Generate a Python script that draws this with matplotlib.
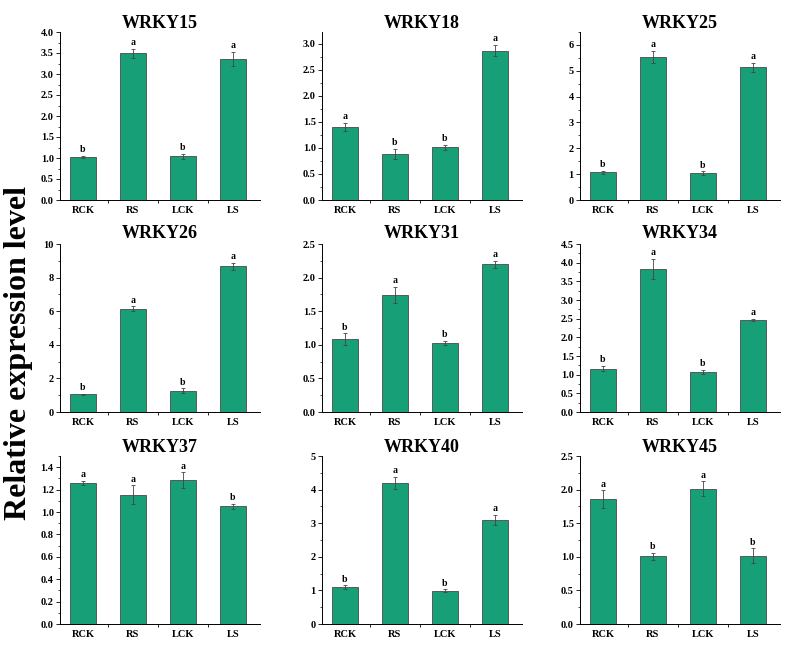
import matplotlib
matplotlib.use("Agg")
import matplotlib.pyplot as plt
from matplotlib.ticker import MultipleLocator, AutoMinorLocator, FixedLocator

plt.rcParams["font.family"] = "Liberation Serif"
plt.rcParams["font.weight"] = "bold"

grupos = ["RCK", "RS", "LCK", "LS"]

genes = ["WRKY15", "WRKY18", "WRKY25",
         "WRKY26", "WRKY31", "WRKY34",
         "WRKY37", "WRKY40", "WRKY45"]

valores = [
    [1.02, 3.49, 1.04, 3.35],
    [1.40, 0.89, 1.01, 2.87],
    [1.08, 5.53, 1.03, 5.13],
    [1.05, 6.14, 1.27, 8.67],
    [1.08, 1.745, 1.026, 2.20],
    [1.16, 3.83, 1.08, 2.46],
    [1.257, 1.153, 1.284, 1.05],
    [1.10, 4.20, 0.99, 3.09],
    [1.86, 1.005, 2.015, 1.015],
]

errores = [
    [0.03, 0.11, 0.06, 0.17],
    [0.08, 0.10, 0.05, 0.11],
    [0.06, 0.24, 0.08, 0.17],
    [0.05, 0.15, 0.14, 0.20],
    [0.09, 0.12, 0.03, 0.05],
    [0.07, 0.27, 0.05, 0.03],
    [0.02, 0.085, 0.07, 0.02],
    [0.05, 0.17, 0.04, 0.15],
    [0.13, 0.05, 0.11, 0.11],
]

letras = [
    ["b", "a", "b", "a"],
    ["a", "b", "b", "a"],
    ["b", "a", "b", "a"],
    ["b", "a", "b", "a"],
    ["b", "a", "b", "a"],
    ["b", "a", "b", "a"],
    ["a", "a", "a", "b"],
    ["b", "a", "b", "a"],
    ["a", "b", "a", "b"],
]

limites = [4.0, 3.23, 6.5, 10, 2.5, 4.5, 1.5, 5, 2.5]
pasos = [0.5, 0.5, 1, 2, 0.5, 0.5, 0.2, 1, 0.5]
formatos = ["%.1f", "%.1f", "%d", "%d", "%.1f", "%.1f", "%.1f", "%d", "%.1f"]

color_barra = "#17a077"

fig = plt.figure(figsize=(7.94, 6.57), dpi=100)
W, H = 794.0, 657.0

# posiciones en pixeles del recuadro de cada eje
col_x = [60, 322, 580]
fila_y = [200, 412, 624]
pad_titulo = [3, 4, -3]

for i, gen in enumerate(genes):
    fila, col = divmod(i, 3)
    ax = fig.add_axes([col_x[col] / W, 1 - fila_y[fila] / H, 200 / W, 168 / H])
    x = range(len(grupos))
    ax.bar(x, valores[i], width=0.52, color=color_barra, edgecolor="#4a4a4a", linewidth=0.6)
    ax.errorbar(x, valores[i], yerr=errores[i], fmt="none", ecolor="#444444",
                elinewidth=0.6, capsize=1.5, capthick=0.6)
    for j in x:
        ax.text(j, valores[i][j] + errores[i][j] + limites[i] * 0.01, letras[i][j],
                ha="center", va="bottom", fontsize=7, fontweight="bold")

    ax.set_xlim(-0.46, 3.54)
    ax.set_ylim(0, limites[i])
    ax.yaxis.set_major_locator(MultipleLocator(pasos[i]))
    ax.yaxis.set_minor_locator(AutoMinorLocator(2))
    ax.yaxis.set_major_formatter(plt.FormatStrFormatter(formatos[i]))
    ax.set_xticks(list(x))
    ax.set_xticklabels(grupos)
    ax.xaxis.set_minor_locator(FixedLocator([0.5, 1.5, 2.5]))
    ax.tick_params(axis="x", which="major", length=0, pad=4, labelsize=7.5)
    ax.tick_params(axis="x", which="minor", length=2, width=0.6, direction="out")
    ax.tick_params(axis="y", which="major", length=3, width=0.6, direction="out",
                   labelsize=7.5, pad=1.5)
    ax.tick_params(axis="y", which="minor", length=1.5, width=0.5, direction="out")
    for lbl in ax.get_xticklabels() + ax.get_yticklabels():
        lbl.set_fontweight("bold")

    ax.spines["top"].set_visible(False)
    ax.spines["right"].set_visible(False)
    ax.spines["left"].set_linewidth(0.7)
    ax.spines["bottom"].set_linewidth(0.7)

    ax.set_title(gen, fontsize=13, fontweight="bold", pad=pad_titulo[fila])

fig.text(19 / W, 1 - 353 / H, "Relative expression level", rotation=90,
         ha="center", va="center", fontsize=23, fontweight="bold")

fig.savefig("out.png", dpi=100)
